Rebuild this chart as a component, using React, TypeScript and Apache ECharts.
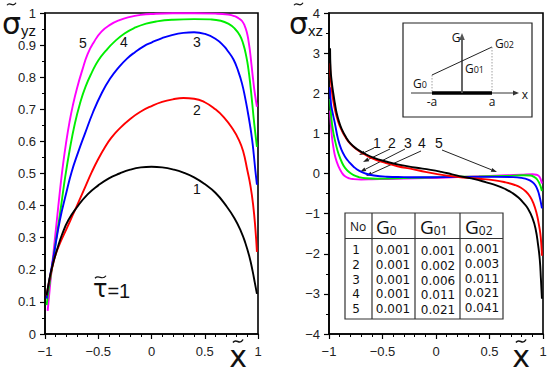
import React, { useEffect, useRef } from 'react';
import * as echarts from 'echarts';

// ---- left panel: sigma_yz ----
const yz1 = [[-0.985,0.12],[-0.97,0.15],[-0.95,0.185],[-0.92,0.225],[-0.88,0.27],[-0.84,0.31],[-0.78,0.355],[-0.7,0.395],[-0.6,0.435],[-0.5,0.463],[-0.4,0.485],[-0.3,0.5],[-0.2,0.512],[-0.1,0.519],[0,0.521],[0.1,0.519],[0.2,0.513],[0.3,0.503],[0.4,0.488],[0.5,0.467],[0.6,0.44],[0.7,0.4],[0.78,0.36],[0.84,0.32],[0.88,0.285],[0.92,0.24],[0.95,0.195],[0.97,0.16],[0.99,0.125]];
const yz2 = [[-0.985,0.12],[-0.96,0.165],[-0.93,0.21],[-0.9,0.248],[-0.85,0.29],[-0.8,0.326],[-0.74,0.37],[-0.68,0.415],[-0.62,0.46],[-0.56,0.505],[-0.5,0.545],[-0.44,0.58],[-0.38,0.61],[-0.3,0.64],[-0.2,0.67],[-0.1,0.693],[0,0.71],[0.1,0.723],[0.2,0.731],[0.3,0.735],[0.4,0.733],[0.5,0.722],[0.6,0.7],[0.68,0.675],[0.76,0.64],[0.82,0.605],[0.86,0.57],[0.9,0.51],[0.93,0.46],[0.955,0.4],[0.975,0.33],[0.99,0.256]];
const yz3 = [[-0.985,0.11],[-0.96,0.165],[-0.92,0.24],[-0.86,0.355],[-0.8,0.44],[-0.75,0.505],[-0.69,0.565],[-0.624,0.625],[-0.55,0.69],[-0.468,0.75],[-0.39,0.795],[-0.31,0.83],[-0.23,0.858],[-0.155,0.878],[-0.07,0.897],[0,0.908],[0.1,0.922],[0.2,0.932],[0.3,0.938],[0.4,0.94],[0.5,0.935],[0.6,0.92],[0.68,0.897],[0.72,0.88],[0.77,0.855],[0.815,0.818],[0.85,0.78],[0.878,0.738],[0.905,0.69],[0.925,0.651],[0.945,0.605],[0.96,0.56],[0.975,0.51],[0.99,0.465]];
const yz4 = [[-0.985,0.09],[-0.96,0.15],[-0.93,0.215],[-0.9,0.285],[-0.87,0.35],[-0.84,0.42],[-0.81,0.49],[-0.77,0.57],[-0.72,0.655],[-0.67,0.72],[-0.62,0.77],[-0.56,0.815],[-0.5,0.852],[-0.43,0.882],[-0.35,0.91],[-0.25,0.937],[-0.15,0.955],[-0.05,0.967],[0.05,0.974],[0.2,0.979],[0.4,0.981],[0.55,0.98],[0.65,0.976],[0.72,0.967],[0.78,0.952],[0.83,0.93],[0.862,0.903],[0.89,0.865],[0.91,0.825],[0.93,0.77],[0.947,0.715],[0.96,0.67],[0.975,0.625],[0.99,0.583]];
const yz5 = [[-0.975,0.072],[-0.95,0.16],[-0.92,0.255],[-0.89,0.35],[-0.86,0.445],[-0.83,0.53],[-0.8,0.6],[-0.77,0.66],[-0.74,0.71],[-0.7,0.765],[-0.65,0.822],[-0.6,0.872],[-0.54,0.91],[-0.47,0.942],[-0.39,0.963],[-0.3,0.978],[-0.2,0.988],[-0.1,0.994],[0,0.997],[0.2,0.999],[0.4,0.999],[0.6,0.998],[0.72,0.995],[0.78,0.99],[0.82,0.983],[0.85,0.975],[0.875,0.96],[0.895,0.94],[0.91,0.915],[0.925,0.88],[0.94,0.835],[0.955,0.79],[0.97,0.75],[0.99,0.708]];

// ---- right panel: sigma_xz ----
const xz1 = [[-0.99,3.12],[-0.985,2.6],[-0.975,2.3],[-0.96,2.0],[-0.945,1.75],[-0.928,1.5],[-0.905,1.28],[-0.88,1.1],[-0.84,0.9],[-0.8,0.75],[-0.74,0.61],[-0.67,0.5],[-0.58,0.39],[-0.47,0.3],[-0.35,0.22],[-0.2,0.15],[-0.05,0.09],[0.05,0.04],[0.15,-0.02],[0.25,-0.08],[0.36,-0.14],[0.47,-0.22],[0.57,-0.3],[0.65,-0.39],[0.71,-0.48],[0.77,-0.6],[0.82,-0.74],[0.86,-0.88],[0.9,-1.1],[0.93,-1.37],[0.955,-1.8],[0.97,-2.15],[0.98,-2.6],[0.99,-3.12]];
const xz2 = [[-0.99,2.75],[-0.982,2.3],[-0.965,1.9],[-0.945,1.6],[-0.915,1.3],[-0.885,1.1],[-0.85,0.92],[-0.8,0.74],[-0.74,0.6],[-0.67,0.48],[-0.59,0.37],[-0.48,0.27],[-0.36,0.18],[-0.22,0.11],[-0.1,0.04],[0,-0.01],[0.12,-0.06],[0.25,-0.1],[0.4,-0.13],[0.55,-0.17],[0.65,-0.22],[0.73,-0.28],[0.79,-0.35],[0.84,-0.45],[0.88,-0.58],[0.91,-0.74],[0.94,-0.99],[0.96,-1.25],[0.975,-1.5],[0.985,-1.8],[0.99,-2.05]];
const xz3 = [[-0.99,2.15],[-0.982,1.75],[-0.965,1.5],[-0.945,1.25],[-0.915,0.85],[-0.885,0.6],[-0.85,0.42],[-0.81,0.28],[-0.77,0.17],[-0.72,0.07],[-0.66,0.0],[-0.58,-0.05],[-0.46,-0.08],[-0.3,-0.09],[-0.15,-0.095],[0.05,-0.09],[0.3,-0.085],[0.55,-0.085],[0.72,-0.09],[0.8,-0.11],[0.86,-0.15],[0.9,-0.21],[0.93,-0.3],[0.955,-0.45],[0.97,-0.6],[0.982,-0.75],[0.99,-0.87]];
const xz4 = [[-0.99,1.86],[-0.982,1.5],[-0.97,1.2],[-0.958,1.0],[-0.935,0.72],[-0.912,0.5],[-0.88,0.28],[-0.85,0.14],[-0.81,0.03],[-0.77,-0.04],[-0.72,-0.09],[-0.66,-0.12],[-0.55,-0.13],[-0.46,-0.125],[-0.3,-0.115],[-0.15,-0.105],[0.1,-0.09],[0.4,-0.075],[0.65,-0.06],[0.82,-0.045],[0.88,-0.05],[0.92,-0.09],[0.945,-0.15],[0.965,-0.24],[0.98,-0.34],[0.99,-0.44]];
const xz5 = [[-0.99,1.57],[-0.982,1.2],[-0.972,0.9],[-0.96,0.67],[-0.94,0.4],[-0.91,0.17],[-0.88,0.02],[-0.85,-0.07],[-0.81,-0.12],[-0.77,-0.14],[-0.7,-0.148],[-0.6,-0.145],[-0.45,-0.137],[-0.3,-0.128],[-0.1,-0.115],[0.05,-0.105],[0.25,-0.085],[0.45,-0.065],[0.65,-0.045],[0.8,-0.03],[0.9,-0.02],[0.94,-0.03],[0.96,-0.06],[0.975,-0.12],[0.99,-0.25]];

const curveNames = ['1', '2', '3', '4', '5'];
const colors = ['#000000', '#ff0000', '#0000ff', '#00ee00', '#ff00ff'];

// table
const tableNo = ['1', '2', '3', '4', '5'];
const tableG0 = ['0.001', '0.001', '0.001', '0.001', '0.001'];
const tableG01 = ['0.001', '0.002', '0.006', '0.011', '0.021'];
const tableG02 = ['0.001', '0.003', '0.011', '0.021', '0.041'];

const AXF = 'Liberation Sans, Arial, sans-serif';
const TF = 'Open Sans, sans-serif';
const SF = 'DejaVu Sans, sans-serif';

function txt(text: string, x: number, y: number, size: number, opt: any = {}) {
  const style: any = {
    text, fill: opt.fill || '#111',
    font: `normal ${size}px ${opt.family || AXF}`,
    textAlign: opt.align || 'center', textVerticalAlign: opt.valign || 'middle',
  };
  if (opt.lineHeight) style.lineHeight = opt.lineHeight;
  return { type: 'text', x, y, silent: true, style };
}

function subTxt(main: string, sub: string, x: number, y: number, mainSize: number, subSize: number, mainFamily: string, subFamily: string, align = 'left') {
  return {
    type: 'text', x, y, silent: true,
    style: {
      text: `{m|${main}}{s|${sub}}`,
      textAlign: align, textVerticalAlign: 'middle',
      rich: {
        m: { fontSize: mainSize, fontFamily: mainFamily, fill: '#111', color: '#111', verticalAlign: 'bottom', lineHeight: mainSize + 2 },
        s: { fontSize: subSize, fontFamily: subFamily, fill: '#111', color: '#111', verticalAlign: 'bottom', lineHeight: subSize + 1 },
      },
    },
  };
}

function arrow(x1: number, y1: number, x2: number, y2: number, color = '#222', len = 6, half = 2.2, lw = 1) {
  const dx = x2 - x1, dy = y2 - y1;
  const d = Math.hypot(dx, dy);
  const ux = dx / d, uy = dy / d;
  const bx = x2 - ux * len, by = y2 - uy * len;
  return [
    { type: 'line', silent: true, shape: { x1, y1, x2: bx, y2: by }, style: { stroke: color, lineWidth: lw } },
    { type: 'polygon', silent: true, shape: { points: [[x2, y2], [bx - uy * half, by + ux * half], [bx + uy * half, by - ux * half]] }, style: { fill: color } },
  ];
}

function tilde(x: number, y: number, w: number, h: number, lw = 1.2) {
  return {
    type: 'bezierCurve', silent: true,
    shape: { x1: x, y1: y + h / 2, cpx1: x + w * 0.35, cpy1: y - h * 1.2, cpx2: x + w * 0.65, cpy2: y + h * 1.7, x2: x + w, y2: y - h / 2 },
    style: { stroke: '#111', lineWidth: lw, fill: 'none' },
  };
}

function fmtMinus(v: number, dec: number) {
  const r = Math.round(v * 1000) / 1000;
  const s = Math.abs(r) < 1e-9 ? '0' : (Number.isInteger(r) ? String(r) : r.toFixed(dec));
  return s.replace('-', '−');
}

export default function App() {
  const ref = useRef<HTMLDivElement>(null);
  useEffect(() => {
    if (!ref.current) return;
    const chart = echarts.init(ref.current, undefined, { renderer: 'svg' });
    const axisCommon = {
      axisLine: { show: true, onZero: false, lineStyle: { color: '#000', width: 1.6 } },
      axisTick: { show: true, inside: false, length: 5, lineStyle: { color: '#000', width: 1.2 } },
      minorTick: { show: true, length: 3, lineStyle: { color: '#000', width: 1 } },
      splitLine: { show: false },
      axisLabel: { fontFamily: AXF, fontSize: 13, color: '#222' },
    };
    const yzSeries = [yz1, yz2, yz3, yz4, yz5];
    const xzSeries = [xz1, xz2, xz3, xz4, xz5];
    const series: any[] = [];
    yzSeries.forEach((d, i) => series.push({
      type: 'line', name: 'yz' + curveNames[i], xAxisIndex: 0, yAxisIndex: 0, data: d,
      showSymbol: false, smooth: 0.5, lineStyle: { color: colors[i], width: 1.9 }, z: 5 - i,
    }));
    xzSeries.forEach((d, i) => series.push({
      type: 'line', name: 'xz' + curveNames[i], xAxisIndex: 1, yAxisIndex: 1, data: d,
      showSymbol: false, smooth: 0.5, lineStyle: { color: colors[i], width: 1.9 }, z: 5 - i,
    }));

    const g: any[] = [];
    g.push(subTxt('σ', 'yz', 2, 22, 30, 15, SF, AXF));
    g.push(tilde(7, 4, 9, 2.5));
    g.push(subTxt('σ', 'xz', 289, 22, 30, 15, SF, AXF));
    g.push(tilde(294, 4, 9, 2.5));
    g.push(txt('x', 238, 356, 30, { family: SF }));
    g.push(tilde(233, 341, 10, 3, 1.6));
    g.push(txt('x', 521, 356, 30, { family: SF }));
    g.push(tilde(516, 341, 10, 3, 1.6));
    g.push({
      type: 'text', x: 93, y: 289, silent: true,
      style: {
        text: '{t|τ}{e|=1}', textAlign: 'left', textVerticalAlign: 'middle',
        rich: {
          t: { fontSize: 24, fontFamily: SF, fill: '#111', verticalAlign: 'bottom', lineHeight: 24 },
          e: { fontSize: 20, fontFamily: AXF, fill: '#111', verticalAlign: 'bottom', lineHeight: 23 },
        },
      },
    });
    g.push(tilde(95, 277, 11, 2.5));
    const leftLbl = [[197, 189], [197, 110], [197, 42], [124, 42], [83, 43]];
    leftLbl.forEach((p, i) => g.push(txt(curveNames[i], p[0], p[1], 14)));
    const rLbl = [[377, 143], [392, 143], [408, 143], [422, 143], [439, 143]];
    rLbl.forEach((p, i) => g.push(txt(curveNames[i], p[0], p[1], 14)));
    const rArr = [[374, 148, 359, 155], [390, 149, 363, 162], [405, 149, 360, 172], [421, 151, 366, 176], [442, 150, 497, 172]];
    rArr.forEach((a) => g.push(...arrow(a[0], a[1], a[2], a[3], '#222', 6, 2)));

    // inset
    g.push({ type: 'rect', silent: true, shape: { x: 403, y: 23, width: 129, height: 94 }, style: { fill: '#fff', stroke: '#222', lineWidth: 1.2 } });
    g.push(...arrow(411, 93, 519, 93, '#333', 6, 2.5, 1));
    g.push({ type: 'line', silent: true, shape: { x1: 432, y1: 93, x2: 492, y2: 93 }, style: { stroke: '#000', lineWidth: 3.5 } });
    g.push(...arrow(462, 93, 462, 33, '#555', 7, 2.8, 1.8));
    g.push({ type: 'line', silent: true, shape: { x1: 432, y1: 75, x2: 492, y2: 47 }, style: { stroke: '#222', lineWidth: 1 } });
    g.push({ type: 'line', silent: true, shape: { x1: 432, y1: 75, x2: 432, y2: 92 }, style: { stroke: '#888', lineWidth: 0.8, lineDash: [1.5, 1.5] } });
    g.push({ type: 'line', silent: true, shape: { x1: 492, y1: 47, x2: 492, y2: 92 }, style: { stroke: '#888', lineWidth: 0.8, lineDash: [1.5, 1.5] } });
    g.push(txt('G', 456, 37, 12, { family: TF }));
    g.push(txt('x', 525, 94, 12, { family: TF }));
    g.push(txt('-a', 432, 101, 12, { family: TF }));
    g.push(txt('a', 492, 101, 12, { family: TF }));
    g.push(subTxt('G', '0', 413, 82, 12, 9, TF, TF));
    g.push(subTxt('G', '01', 465, 67, 12, 9, TF, TF));
    g.push(subTxt('G', '02', 495, 42, 12, 9, TF, TF));

    // table
    const tx = 345, ty = 213, tw = 158, th = 106;
    g.push({ type: 'rect', silent: true, shape: { x: tx, y: ty, width: tw, height: th }, style: { fill: '#fff', stroke: '#333', lineWidth: 1.2 } });
    [372, 415, 460].forEach((x) => g.push({ type: 'line', silent: true, shape: { x1: x, y1: ty, x2: x, y2: ty + th }, style: { stroke: '#333', lineWidth: 1.2 } }));
    g.push({ type: 'line', silent: true, shape: { x1: tx, y1: 238.5, x2: tx + tw, y2: 238.5 }, style: { stroke: '#333', lineWidth: 1.2 } });
    g.push(txt('No', 358, 226, 12, { family: TF }));
    g.push(subTxt('G', '0', 376, 226, 19, 12, TF, TF));
    g.push(subTxt('G', '01', 420, 226, 19, 12, TF, TF));
    g.push(subTxt('G', '02', 465, 226, 19, 12, TF, TF));
    g.push(txt(tableNo.join('\n'), 356, 279.5, 12, { family: SF, lineHeight: 14.6 }));
    g.push(txt(tableG0.join('\n'), 393, 279.5, 12, { family: SF, lineHeight: 14.6 }));
    g.push(txt(tableG01.join('\n'), 438, 280.5, 12, { family: SF, lineHeight: 14.6 }));
    g.push(txt(tableG02.join('\n'), 482, 278.5, 12, { family: SF, lineHeight: 14.6 }));

    chart.setOption({
      animation: false,
      backgroundColor: '#ffffff',
      grid: [
        { left: 45, top: 13, width: 213, height: 321, show: true, borderColor: '#000', borderWidth: 1.6, backgroundColor: 'transparent' },
        { left: 329, top: 13, width: 214, height: 321, show: true, borderColor: '#000', borderWidth: 1.6, backgroundColor: 'transparent' },
      ],
      xAxis: [
        { ...axisCommon, type: 'value', gridIndex: 0, min: -1, max: 1, interval: 0.5, minorTick: { ...axisCommon.minorTick, splitNumber: 5 },
          axisLabel: { ...axisCommon.axisLabel, margin: 11, formatter: (v: number) => fmtMinus(v, 1) } },
        { ...axisCommon, type: 'value', gridIndex: 1, min: -1, max: 1, interval: 0.5, minorTick: { ...axisCommon.minorTick, splitNumber: 5 },
          axisLabel: { ...axisCommon.axisLabel, margin: 11, formatter: (v: number) => fmtMinus(v, 1) } },
      ],
      yAxis: [
        { ...axisCommon, type: 'value', gridIndex: 0, min: 0, max: 1, interval: 0.1, minorTick: { ...axisCommon.minorTick, splitNumber: 2 },
          axisLabel: { ...axisCommon.axisLabel, margin: 9, formatter: (v: number) => fmtMinus(v, 1) } },
        { ...axisCommon, type: 'value', gridIndex: 1, min: -4, max: 4, interval: 1, minorTick: { ...axisCommon.minorTick, splitNumber: 2 },
          axisLabel: { ...axisCommon.axisLabel, margin: 9, formatter: (v: number) => fmtMinus(v, 0) } },
      ],
      series,
      graphic: { elements: g },
    });
    return () => chart.dispose();
  }, []);
  return <div ref={ref} style={{ position: 'absolute', left: 0, top: 0, width: 550, height: 373 }} />;
}
